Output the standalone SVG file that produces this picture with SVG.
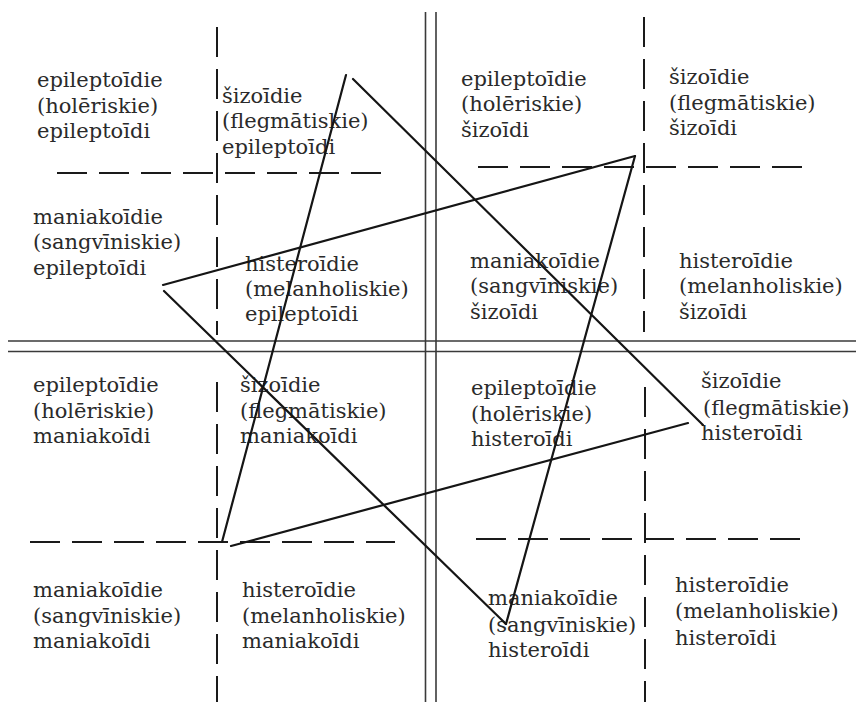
<svg xmlns="http://www.w3.org/2000/svg" width="856" height="702" viewBox="0 0 856 702">
<style>
  .t { font-family: "DejaVu Serif", "Liberation Serif", serif; font-size: 21px; fill: #2a2a2a; }
  .grid { stroke: #3a3a3a; stroke-width: 1.6; fill: none; }
  .dash { stroke: #1a1a1a; stroke-width: 2; stroke-dasharray: 30 12; fill: none; }
  .edge { stroke: #151515; stroke-width: 2.2; fill: none; stroke-linecap: round; }
</style>
<rect width="856" height="702" fill="#ffffff"/>
<g id="grid">
  <line class="grid" x1="425.5" y1="12" x2="425.5" y2="702"/>
  <line class="grid" x1="436" y1="12" x2="436" y2="702"/>
  <line class="grid" x1="8" y1="341" x2="856" y2="341"/>
  <line class="grid" x1="8" y1="351.5" x2="856" y2="351.5"/>
  <line class="dash" x1="217" y1="27" x2="217" y2="335"/>
  <line class="dash" x1="57" y1="173" x2="392" y2="173"/>
  <line class="dash" x1="644" y1="17" x2="644" y2="332"/>
  <line class="dash" x1="478" y1="167" x2="810" y2="167"/>
  <line class="dash" x1="217" y1="382" x2="217" y2="702"/>
  <line class="dash" x1="30" y1="542" x2="395" y2="542"/>
  <line class="dash" x1="645" y1="387" x2="645" y2="702"/>
  <line class="dash" x1="476" y1="539" x2="806" y2="539"/>
</g>
<g id="cell1"><text class="t" x="37" y="87">epileptoīdie</text><text class="t" x="37" y="113">(holēriskie)</text><text class="t" x="37" y="138">epileptoīdi</text></g>
<g id="cell2"><text class="t" x="222" y="103">šizoīdie</text><text class="t" x="222" y="128">(flegmātiskie)</text><text class="t" x="222" y="154">epileptoīdi</text></g>
<g id="cell3"><text class="t" x="33" y="224">maniakoīdie</text><text class="t" x="33" y="249">(sangvīniskie)</text><text class="t" x="33" y="275">epileptoīdi</text></g>
<g id="cell4"><text class="t" x="245" y="271">histeroīdie</text><text class="t" x="245" y="296">(melanholiskie)</text><text class="t" x="245" y="321">epileptoīdi</text></g>
<g id="cell5"><text class="t" x="461" y="86">epileptoīdie</text><text class="t" x="461" y="111">(holēriskie)</text><text class="t" x="461" y="137">šizoīdi</text></g>
<g id="cell6"><text class="t" x="669" y="84">šizoīdie</text><text class="t" x="669" y="110">(flegmātiskie)</text><text class="t" x="669" y="135">šizoīdi</text></g>
<g id="cell7"><text class="t" x="470" y="268">maniakoīdie</text><text class="t" x="470" y="293">(sangvīniskie)</text><text class="t" x="470" y="319">šizoīdi</text></g>
<g id="cell8"><text class="t" x="679" y="268">histeroīdie</text><text class="t" x="679" y="293">(melanholiskie)</text><text class="t" x="679" y="319">šizoīdi</text></g>
<g id="cell9"><text class="t" x="33" y="392">epileptoīdie</text><text class="t" x="33" y="418">(holēriskie)</text><text class="t" x="33" y="443">maniakoīdi</text></g>
<g id="cell10"><text class="t" x="240" y="392">šizoīdie</text><text class="t" x="240" y="418">(flegmātiskie)</text><text class="t" x="240" y="443">maniakoīdi</text></g>
<g id="cell11"><text class="t" x="33" y="597">maniakoīdie</text><text class="t" x="33" y="623">(sangvīniskie)</text><text class="t" x="33" y="648">maniakoīdi</text></g>
<g id="cell12"><text class="t" x="242" y="597">histeroīdie</text><text class="t" x="242" y="623">(melanholiskie)</text><text class="t" x="242" y="648">maniakoīdi</text></g>
<g id="cell13"><text class="t" x="471" y="395">epileptoīdie</text><text class="t" x="471" y="421">(holēriskie)</text><text class="t" x="471" y="446">histeroīdi</text></g>
<g id="cell14"><text class="t" x="701" y="388">šizoīdie</text><text class="t" x="703" y="415">(flegmātiskie)</text><text class="t" x="701" y="440">histeroīdi</text></g>
<g id="cell15"><text class="t" x="488" y="605">maniakoīdie</text><text class="t" x="488" y="632">(sangvīniskie)</text><text class="t" x="488" y="657">histeroīdi</text></g>
<g id="cell16"><text class="t" x="675" y="592">histeroīdie</text><text class="t" x="675" y="618">(melanholiskie)</text><text class="t" x="675" y="645">histeroīdi</text></g>
<g id="connectors">
  <line class="edge" x1="346" y1="75" x2="222" y2="542"/>
  <line class="edge" x1="353" y1="79" x2="703" y2="425"/>
  <line class="edge" x1="688" y1="423" x2="231" y2="546"/>
  <line class="edge" x1="163" y1="285" x2="635" y2="156"/>
  <line class="edge" x1="635" y1="156" x2="506" y2="624"/>
  <line class="edge" x1="164" y1="291" x2="506" y2="624"/>
</g>
</svg>
